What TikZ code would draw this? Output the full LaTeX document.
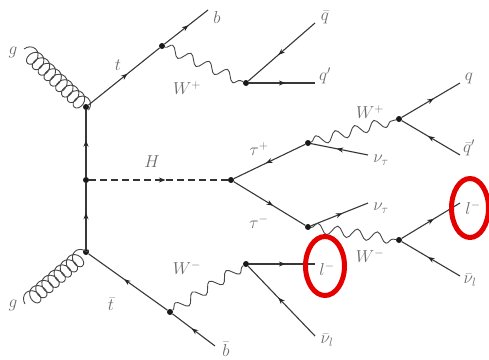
\documentclass[tikz,border=0pt]{standalone}
\usetikzlibrary{decorations.pathmorphing,decorations.markings,arrows.meta}
\begin{document}
\begin{tikzpicture}[x=1pt,y=-1pt,
  vtx/.style={circle,fill=black!90,inner sep=0pt,minimum size=6pt},
  lbl/.style={text=black!58,font=\fontsize{17}{19}\selectfont,inner sep=0pt},
  fermion/.style={draw=black!78,line width=1.1pt,postaction={decorate},decoration={markings,mark=at position #1 with {\arrow[black!85]{Stealth[length=6.5pt,width=5pt]}}}},
  fermion/.default=0.55,
  boson/.style={draw=black!72,line width=0.9pt,decorate,decoration={snake,segment length=20pt,amplitude=5pt}},
  gluon/.style={draw=black!72,line width=0.9pt,decorate,decoration={coil,aspect=0.8,segment length=8pt,amplitude=8pt}},
  higgs/.style={draw=black!80,line width=1.1pt,dash pattern=on 7pt off 4pt,postaction={decorate},decoration={markings,mark=at position 0.55 with {\arrow[black!85]{Stealth[length=6.5pt,width=5pt]}}}}]
\useasboundingbox (0,0) rectangle (489,359);
% vertices
\node[vtx] (vt) at (86,107) {};
\node[vtx] (vm) at (86,180) {};
\node[vtx] (vb) at (86,252) {};
\node[vtx] (tw) at (162,46) {};
\node[vtx] (wp) at (246,83) {};
\node[vtx] (bw) at (170,312) {};
\node[vtx] (wm) at (246,264) {};
\node[vtx] (h) at (231,180) {};
\node[vtx] (tp) at (308,143) {};
\node[vtx] (tm) at (308,227) {};
\node[vtx] (wpr) at (399,119) {};
\node[vtx] (wmr) at (399,240) {};
% free ends
\coordinate (g1) at (24,49);
\coordinate (g1e) at (89,110);
\coordinate (g2) at (25,304);
\coordinate (g2e) at (89,250);
\coordinate (eb) at (208,10);
\coordinate (ebb) at (215,346);
\coordinate (eqb) at (315,23);
\coordinate (eqp) at (315,83);
\coordinate (ent1) at (368,155);
\coordinate (ent2) at (368,203);
\coordinate (eq) at (460,83);
\coordinate (eqbp) at (460,155);
\coordinate (el1) at (460,203);
\coordinate (enu1) at (460,276);
\coordinate (el2) at (315,264);
\coordinate (enu2) at (315,336);
% gluons
\draw[gluon] (g1) -- (g1e);
\draw[gluon] (g2) -- (g2e);
% fermions
\draw[fermion] (vb) -- (vm);
\draw[fermion] (vm) -- (vt);
\draw[fermion] (vt) -- (tw);
\draw[fermion] (tw) -- (eb);
\draw[fermion] (bw) -- (vb);
\draw[fermion] (ebb) -- (bw);
\draw[fermion] (eqb) -- (wp);
\draw[fermion] (wp) -- (eqp);
\draw[fermion] (enu2) -- (wm);
\draw[fermion] (wm) -- (el2);
\draw[fermion] (tp) -- (h);
\draw[fermion] (h) -- (tm);
\draw[fermion] (ent1) -- (tp);
\draw[fermion] (tm) -- (ent2);
\draw[fermion] (wpr) -- (eq);
\draw[fermion] (eqbp) -- (wpr);
\draw[fermion] (wmr) -- (el1);
\draw[fermion] (enu1) -- (wmr);
% bosons
\draw[higgs] (vm) -- (h);
\draw[boson] (tw) -- (wp);
\draw[boson] (bw) -- (wm);
\draw[boson] (tp) -- (wpr);
\draw[boson] (tm) -- (wmr);
% labels
\node[lbl] (lg1) at (13,52) {$g$};
\node[lbl] (lg2) at (13,305) {$g$};
\node[lbl] (lt) at (118,65) {$t$};
\node[lbl] (ltb) at (111,304) {$\bar t$};
\node[lbl] (lb) at (217,17) {$b$};
\node[lbl] (lbb) at (226,349) {$\bar b$};
\node[lbl] (lwp) at (187,88) {$W^{+}$};
\node[lbl] (lwm) at (187,268) {$W^{-}$};
\node[lbl] (lH) at (152,162) {$H$};
\node[lbl] (lqb) at (325,17) {$\bar q$};
\node[lbl] (lqp) at (325,76) {$q'$};
\node[lbl] (lq) at (469,78) {$q$};
\node[lbl] (lqbp) at (469,148) {$\bar q'$};
\node[lbl] (lwpr) at (370,112) {$W^{+}$};
\node[lbl] (lwmr) at (370,256) {$W^{-}$};
\node[lbl] (ltp) at (259,149) {$\tau^{+}$};
\node[lbl] (ltm) at (259,222) {$\tau^{-}$};
\node[lbl] (lnt1) at (381,160) {$\nu_{\tau}$};
\node[lbl] (lnt2) at (381,208) {$\nu_{\tau}$};
\node[lbl] (ll1) at (473,208) {$l^{-}$};
\node[lbl] (ll2) at (327,269) {$l^{-}$};
\node[lbl] (ln1) at (470,280) {$\bar\nu_{l}$};
\node[lbl] (ln2) at (327,340) {$\bar\nu_{l}$};
% highlights
\draw[red!90!black,line width=5pt] (325,266) ellipse [x radius=19.5,y radius=29.5];
\draw[red!90!black,line width=5pt] (470,208) ellipse [x radius=18.5,y radius=29.5];
\end{tikzpicture}
\end{document}
